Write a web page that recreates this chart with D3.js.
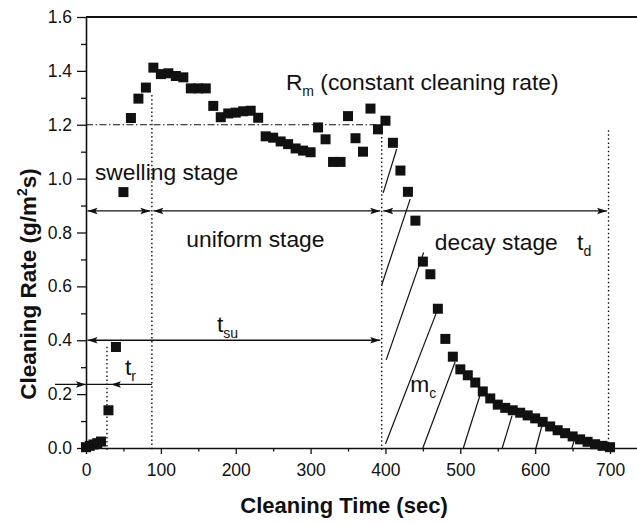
<!DOCTYPE html>
<html>
<head>
<meta charset="utf-8">
<script src="https://cdn.jsdelivr.net/npm/d3@7"></script>
<style>
  body { margin: 0; background: #fff; }
  svg { display: block; }
  text { font-family: "Liberation Sans", Arial, Helvetica, sans-serif; fill: #111; }
</style>
</head>
<body>
<svg id="chart" width="637" height="524"></svg>
<script>
// Cleaning time (s) and measured cleaning rate (g/m^2 s)
const times = [0, 5, 10, 15, 20,
  30, 40, 50, 60, 70, 80, 90, 100, 110, 120, 130, 140, 150, 160, 170, 180,
  190, 200, 210, 220, 230, 240, 250, 260, 270, 280, 290, 300,
  310, 320, 330, 340, 350, 360, 370, 380, 390, 400, 410, 420, 430, 440, 450, 460, 470, 480, 490, 500,
  510, 520, 530, 540, 550, 560, 570, 580, 590, 600, 610, 620, 630, 640, 650, 660, 670, 680, 690, 700];
const rates = [0.003, 0.008, 0.013, 0.018, 0.024,
  0.14, 0.375, 0.95, 1.225, 1.297, 1.338, 1.412, 1.388, 1.391, 1.381, 1.376, 1.335, 1.335, 1.335, 1.27, 1.228,
  1.242, 1.245, 1.25, 1.252, 1.226, 1.157, 1.152, 1.138, 1.128, 1.112, 1.104, 1.098,
  1.19, 1.146, 1.062, 1.062, 1.232, 1.15, 1.10, 1.26, 1.183, 1.215, 1.133, 1.03, 0.951, 0.844, 0.692, 0.645, 0.517, 0.405, 0.339, 0.292,
  0.27, 0.243, 0.21, 0.184, 0.161, 0.149, 0.14, 0.131, 0.121, 0.11, 0.097, 0.08, 0.066, 0.055, 0.043, 0.032, 0.023, 0.014, 0.008, 0.003];

const xTicks = [0, 100, 200, 300, 400, 500, 600, 700];
const xMinorTicks = [50, 150, 250, 350, 450, 550, 650];
const yTicks = [0, 0.2, 0.4, 0.6, 0.8, 1.0, 1.2, 1.4, 1.6];
const yMinorTicks = [0.1, 0.3, 0.5, 0.7, 0.9, 1.1, 1.3, 1.5];

// Stage boundaries (s) and reference levels
const tInduction = 28;
const tSwellEnd = 88;
const tUniformEnd = 395;
const tEnd = 698;
const rateConstant = 1.2;

// Tangent lines drawn through the decay curve: [t1, r1, t2, r2]
const tangents = [
  [415, 1.11, 397, 0.947],
  [433, 0.924, 395, 0.605],
  [451, 0.726, 401, 0.327],
  [469, 0.509, 400, 0.015],
  [493, 0.319, 450, 0.0],
  [526, 0.193, 504, 0.0],
  [569, 0.119, 556, 0.0],
  [609, 0.082, 601, 0.0],
  [652, 0.026, 649, 0.0]
];

const svg = d3.select("#chart");
const W = 637, H = 524;
const x = d3.scaleLinear().domain([0, 736]).range([86, W]);
const y = d3.scaleLinear().domain([0, 1.6]).range([448, 17]);
const ink = "#111";

// Axes
const gx = svg.append("g").attr("transform", `translate(0,${y(0)})`)
  .call(d3.axisBottom(x).tickValues(xTicks).tickSize(6).tickSizeOuter(0).tickPadding(10).tickFormat(d3.format("d")));
gx.selectAll("text").attr("font-size", 17.5);
svg.append("g").attr("transform", `translate(0,${y(0)})`)
  .call(d3.axisBottom(x).tickValues(xMinorTicks).tickSize(3.5).tickSizeOuter(0).tickFormat(""))
  .select(".domain").remove();

const gy = svg.append("g").attr("transform", `translate(${x(0)},0)`)
  .call(d3.axisLeft(y).tickValues(yTicks).tickSize(9).tickSizeOuter(0).tickPadding(5).tickFormat(d3.format(".1f")));
gy.selectAll("text").attr("font-size", 17.5);
svg.append("g").attr("transform", `translate(${x(0)},0)`)
  .call(d3.axisLeft(y).tickValues(yMinorTicks).tickSize(5).tickSizeOuter(0).tickFormat(""))
  .select(".domain").remove();

svg.selectAll(".domain").attr("stroke", ink).attr("stroke-width", 1.6);
svg.selectAll(".tick line").attr("stroke", ink).attr("stroke-width", 1.3);
svg.selectAll(".tick text").style("font-family", "'Liberation Sans', Arial, sans-serif").attr("fill", ink);

// Top frame
svg.append("line").attr("x1", x(0)).attr("x2", W).attr("y1", y(1.6)).attr("y2", y(1.6))
  .attr("stroke", ink).attr("stroke-width", 1.8);

// Axis titles
svg.append("text").attr("x", 344).attr("y", 513).attr("text-anchor", "middle")
  .attr("font-size", 22).attr("font-weight", "bold").text("Cleaning Time (sec)");
const yt = svg.append("text").attr("transform", "translate(36,284) rotate(-90)")
  .attr("text-anchor", "middle").attr("font-size", 22.5).attr("font-weight", "bold");
yt.append("tspan").text("Cleaning Rate (g/m");
yt.append("tspan").attr("font-size", 14).attr("dy", -9).text("2");
yt.append("tspan").attr("dy", 9).text("s)");

// Reference lines
svg.append("line").attr("x1", x(0)).attr("x2", x(tUniformEnd)).attr("y1", y(rateConstant)).attr("y2", y(rateConstant))
  .attr("stroke", ink).attr("stroke-width", 1.1).attr("stroke-dasharray", "7,2.5,1.5,2.5");

const dottedLines = [
  { t: tInduction, top: 0.376 },
  { t: tSwellEnd, top: 1.31 },
  { t: tUniformEnd, top: 1.17 },
  { t: tEnd, top: 1.18 }
];
svg.selectAll(".vdot").data(dottedLines).join("line").attr("class", "vdot")
  .attr("x1", d => x(d.t)).attr("x2", d => x(d.t))
  .attr("y1", d => y(d.top)).attr("y2", y(0) + 2)
  .attr("stroke", ink).attr("stroke-width", 1.4).attr("stroke-dasharray", "1.5,2.6");

// Arrow helpers
function arrowHead(tipX, tipY, dir) {
  const L = 10, Wd = 3.2;
  const bx = tipX - dir * L;
  svg.append("path").attr("d", `M${tipX},${tipY}L${bx},${tipY - Wd}L${bx + dir * 2},${tipY}L${bx},${tipY + Wd}Z`)
    .attr("fill", ink);
}
function hLine(x1, x2, yy) {
  svg.append("line").attr("x1", x1).attr("x2", x2).attr("y1", yy).attr("y2", yy)
    .attr("stroke", ink).attr("stroke-width", 1.3);
}
function doubleArrow(t1, t2, r, pad) {
  const x1 = x(t1) + pad, x2 = x(t2) - pad, yy = y(r);
  hLine(x1, x2, yy);
  arrowHead(x1, yy, -1);
  arrowHead(x2, yy, 1);
}

// Stage spans
const stageLevel = 0.88;
doubleArrow(0, tSwellEnd, stageLevel, 1.5);
doubleArrow(tSwellEnd, tUniformEnd, stageLevel, 1.5);
doubleArrow(tUniformEnd, tEnd, stageLevel, 1.5);
// Start-up time span
doubleArrow(0, tUniformEnd, 0.40, 1.5);
// Induction time marker
const trLevel = 0.236;
hLine(55, x(tSwellEnd), y(trLevel));
arrowHead(x(0), y(trLevel), 1);
arrowHead(x(tInduction) + 4, y(trLevel), -1);

// Tangent lines
svg.selectAll(".tan").data(tangents).join("line").attr("class", "tan")
  .attr("x1", d => x(d[0])).attr("y1", d => y(d[1]))
  .attr("x2", d => x(d[2])).attr("y2", d => y(d[3]))
  .attr("stroke", ink).attr("stroke-width", 1.2);

// Data markers
const S = 10;
svg.selectAll(".pt").data(times.map((t, i) => [t, rates[i]])).join("rect").attr("class", "pt")
  .attr("x", d => x(d[0]) - S / 2).attr("y", d => y(d[1]) - S / 2)
  .attr("width", S).attr("height", S).attr("fill", ink);

// Annotations
function label(tx, ty, main, sub, rest) {
  const t = svg.append("text").attr("x", x(tx)).attr("y", y(ty)).attr("font-size", 22.8);
  t.append("tspan").text(main);
  if (sub) t.append("tspan").attr("font-size", 14).attr("dy", 6).text(sub);
  if (rest) t.append("tspan").attr("dy", -6).text(rest);
}
label(12, 0.995, "swelling stage");
label(134, 0.746, "uniform stage");
label(466, 0.735, "decay stage");
label(656, 0.735, "t", "d");
label(175, 0.431, "t", "su");
label(52, 0.271, "t", "r");
label(267, 1.329, "R", "m", " (constant cleaning rate)");
label(433, 0.208, "m", "c");
</script>
</body>
</html>
